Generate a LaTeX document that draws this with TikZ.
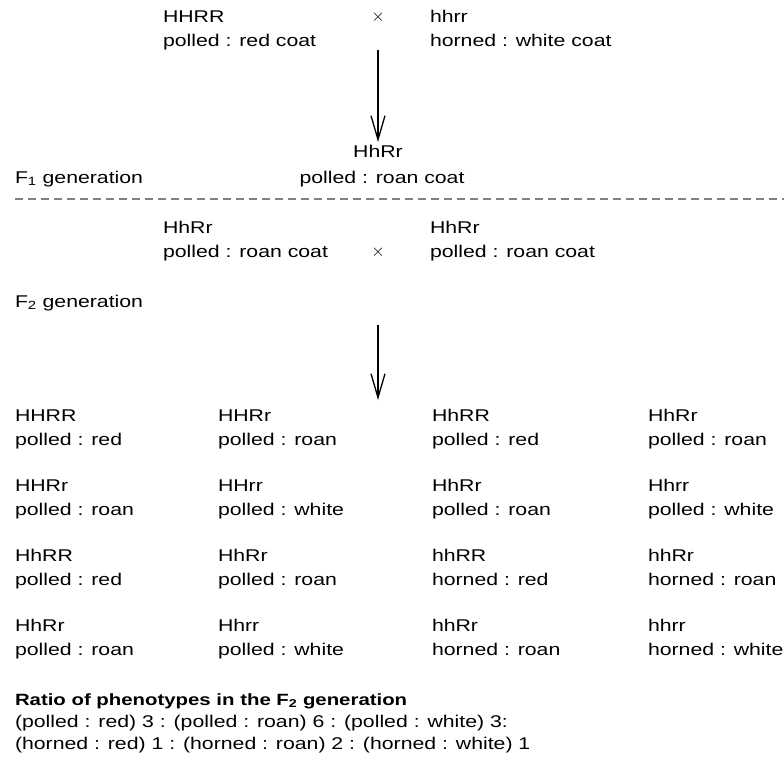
\documentclass[tikz,border=0pt]{standalone}
\usepackage{fontspec}
\setmainfont{Liberation Sans}[FakeStretch=1.25]
\usetikzlibrary{arrows.meta}
\begin{document}
\begin{tikzpicture}[x=1pt,y=-1pt,
  every node/.style={inner sep=0pt,outer sep=0pt,font=\fontsize{17}{20}\selectfont},
  lbl/.style={anchor=base west},
  lblc/.style={anchor=base},
  boldlbl/.style={anchor=base west,font=\fontsize{16.3}{20}\selectfont\bfseries},
  cross/.style={anchor=center,font=\fontsize{19}{20}\selectfont},
  descent/.style={line width=1.3pt,-{Straight Barb[length=24pt,width=14pt,line width=1.3pt]}},
  divider/.style={dashed,dash pattern=on 8pt off 5pt,line width=1.4pt,draw=black!50}]
\useasboundingbox (0,0) rectangle (784,771);

% parental cross
\node[lbl] (p1g) at (163,23) {HHRR};
\node[lbl] (p1p) at (163,46) {polled : red coat};
\node[cross] (x1) at (378,17) {$\times$};
\node[lbl] (p2g) at (430,23) {hhrr};
\node[lbl] (p2p) at (430,46) {horned : white coat};

\coordinate (a1top) at (378,50);
\coordinate (a1end) at (378,142);
\draw[descent] (a1top) -- (a1end);

% F1 generation
\node[lblc] (f1g) at (378,157) {HhRr};
\node[lblc] (f1p) at (382,183) {polled : roan coat};
\node[lbl] (f1lab) at (15,183) {F\textsubscript{1} generation};

\coordinate (dl) at (15,199);
\coordinate (dr) at (784,199);
\draw[divider] (dl) -- (dr);

% F1 x F1 cross
\node[lbl] (q1g) at (163,233) {HhRr};
\node[lbl] (q1p) at (163,257) {polled : roan coat};
\node[cross] (x2) at (378,252) {$\times$};
\node[lbl] (q2g) at (430,233) {HhRr};
\node[lbl] (q2p) at (430,257) {polled : roan coat};

\node[lbl] (f2lab) at (15,307) {F\textsubscript{2} generation};

\coordinate (a2top) at (378,325);
\coordinate (a2end) at (378,400);
\draw[descent] (a2top) -- (a2end);

% F2 offspring grid
\node[lbl] (g11) at (15,421) {HHRR};  \node[lbl] (h11) at (15,445) {polled : red};
\node[lbl] (g12) at (218,421) {HHRr}; \node[lbl] (h12) at (218,445) {polled : roan};
\node[lbl] (g13) at (432,421) {HhRR}; \node[lbl] (h13) at (432,445) {polled : red};
\node[lbl] (g14) at (648,421) {HhRr}; \node[lbl] (h14) at (648,445) {polled : roan};

\node[lbl] (g21) at (15,491) {HHRr};  \node[lbl] (h21) at (15,515) {polled : roan};
\node[lbl] (g22) at (218,491) {HHrr}; \node[lbl] (h22) at (218,515) {polled : white};
\node[lbl] (g23) at (432,491) {HhRr}; \node[lbl] (h23) at (432,515) {polled : roan};
\node[lbl] (g24) at (648,491) {Hhrr}; \node[lbl] (h24) at (648,515) {polled : white};

\node[lbl] (g31) at (15,561) {HhRR};  \node[lbl] (h31) at (15,585) {polled : red};
\node[lbl] (g32) at (218,561) {HhRr}; \node[lbl] (h32) at (218,585) {polled : roan};
\node[lbl] (g33) at (432,561) {hhRR}; \node[lbl] (h33) at (432,585) {horned : red};
\node[lbl] (g34) at (648,561) {hhRr}; \node[lbl] (h34) at (648,585) {horned : roan};

\node[lbl] (g41) at (15,631) {HhRr};  \node[lbl] (h41) at (15,655) {polled : roan};
\node[lbl] (g42) at (218,631) {Hhrr}; \node[lbl] (h42) at (218,655) {polled : white};
\node[lbl] (g43) at (432,631) {hhRr}; \node[lbl] (h43) at (432,655) {horned : roan};
\node[lbl] (g44) at (648,631) {hhrr}; \node[lbl] (h44) at (648,655) {horned : white};

% phenotype ratio
\node[boldlbl] (rt) at (15,705) {Ratio of phenotypes in the F\textsubscript{2} generation};
\node[lbl] (r1) at (15,727) {(polled : red) 3 : (polled : roan) 6 : (polled : white) 3:};
\node[lbl] (r2) at (15,749) {(horned : red) 1 : (horned : roan) 2 : (horned : white) 1};
\end{tikzpicture}
\end{document}
